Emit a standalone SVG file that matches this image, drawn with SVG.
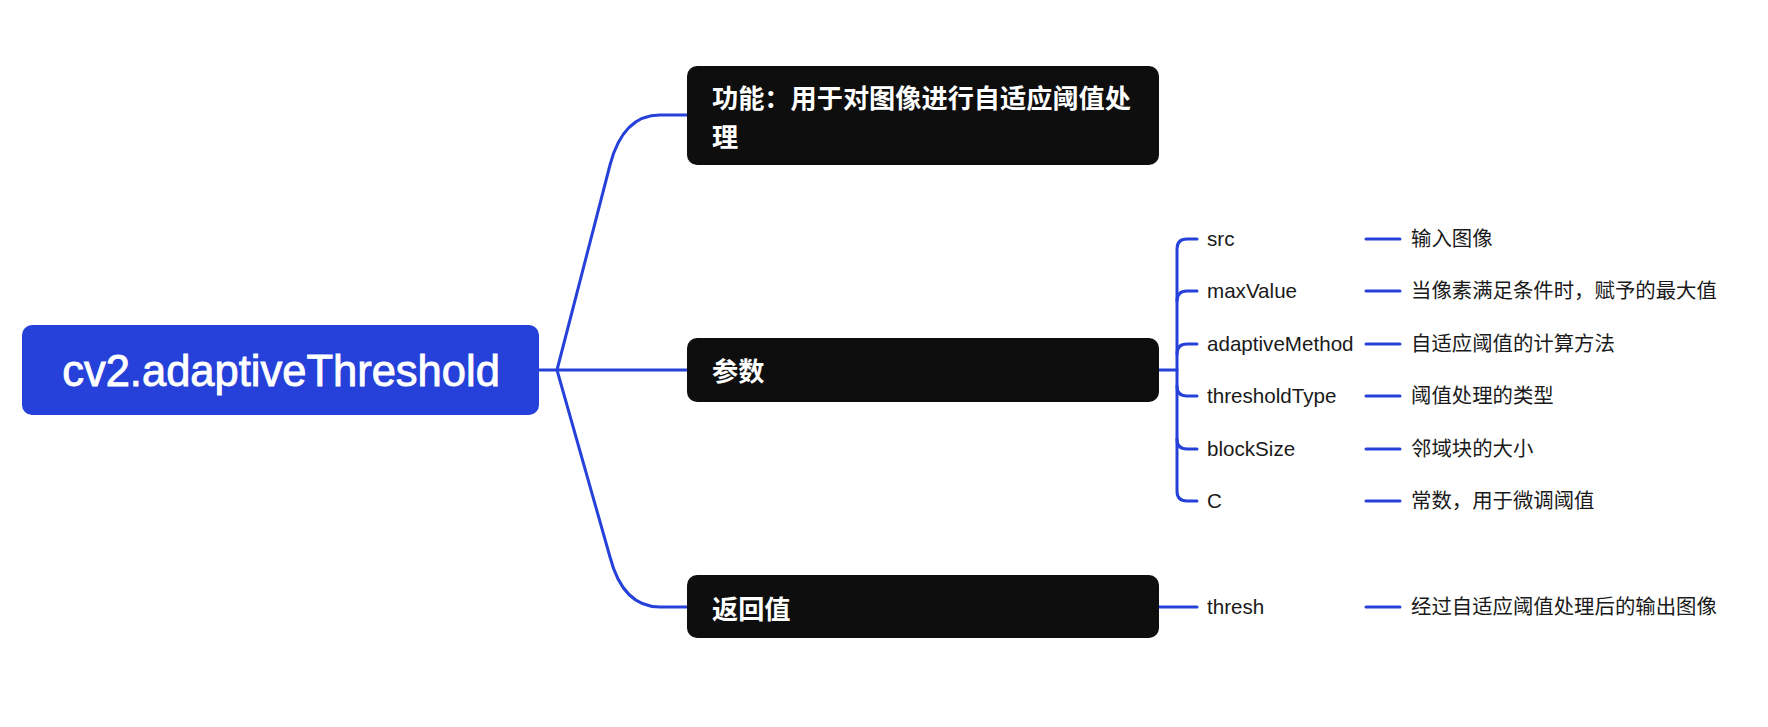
<svg xmlns="http://www.w3.org/2000/svg" width="1768" height="727" viewBox="0 0 1768 727">
<style>
.ln{fill:none;stroke:#2541d9;stroke-width:3;stroke-linecap:round;stroke-linejoin:round}
.root{fill:#2541d9}
.nd{fill:#0e0e0e}
.rt{font-family:"Liberation Sans","Noto Sans CJK SC",sans-serif;font-size:43.5px;fill:#ffffff;stroke:#ffffff;stroke-width:0.9}
.nt{font-family:"Noto Sans CJK SC","Liberation Sans",sans-serif;font-size:26.2px;font-weight:bold;fill:#ffffff}
.ct{font-family:"Liberation Sans","Noto Sans CJK SC",sans-serif;font-size:20.6px;fill:#1a1a1a}
.dt{font-family:"Noto Sans CJK SC","Liberation Sans",sans-serif;font-size:20.4px;fill:#1a1a1a}
</style>
<rect width="1768" height="727" fill="#ffffff"/>
<g id="connectors">
<path class="ln" d="M539 370 L687 370"/>
<path class="ln" d="M557 370 L610 165 Q623 115 660 115 L687 115"/>
<path class="ln" d="M557 370 L610 557 Q623 607 660 607 L687 607"/>
<path class="ln" d="M1159 370 L1177 370"/>
<path class="ln" d="M1197 239 L1187 239 Q1177 239 1177 249 L1177 491 Q1177 501 1187 501 L1197 501"/>
<path class="ln" d="M1177 301 Q1177 291 1187 291 L1197 291"/>
<path class="ln" d="M1177 354 Q1177 344 1187 344 L1197 344"/>
<path class="ln" d="M1177 386 Q1177 396 1187 396 L1197 396"/>
<path class="ln" d="M1177 439 Q1177 449 1187 449 L1197 449"/>
<path class="ln" d="M1159 607 L1197 607"/>
<path class="ln" d="M1366 239 L1400 239"/>
<path class="ln" d="M1366 291 L1400 291"/>
<path class="ln" d="M1366 344 L1400 344"/>
<path class="ln" d="M1366 396 L1400 396"/>
<path class="ln" d="M1366 449 L1400 449"/>
<path class="ln" d="M1366 501 L1400 501"/>
<path class="ln" d="M1366 607 L1400 607"/>
</g>
<g id="root">
<rect class="root" x="22" y="325" width="517" height="90" rx="10"/>
<text class="rt" x="281" y="386" text-anchor="middle">cv2.adaptiveThreshold</text>
</g>
<g id="node-func">
<rect class="nd" x="687" y="66" width="472" height="99" rx="10"/>
<text class="nt" x="712" y="108">功能：用于对图像进行自适应阈值处<tspan x="712" dy="38.5">理</tspan></text>
</g>
<g id="node-params">
<rect class="nd" x="687" y="338" width="472" height="64" rx="10"/>
<text class="nt" x="712" y="381">参数</text>
</g>
<g id="node-return">
<rect class="nd" x="687" y="575" width="472" height="63" rx="10"/>
<text class="nt" x="712" y="619">返回值</text>
</g>
<g id="param-src"><text class="ct" x="1207" y="246">src</text></g>
<g id="param-maxValue"><text class="ct" x="1207" y="298">maxValue</text></g>
<g id="param-adaptiveMethod"><text class="ct" x="1207" y="351">adaptiveMethod</text></g>
<g id="param-thresholdType"><text class="ct" x="1207" y="403">thresholdType</text></g>
<g id="param-blockSize"><text class="ct" x="1207" y="456">blockSize</text></g>
<g id="param-C"><text class="ct" x="1207" y="508">C</text></g>
<g id="ret-thresh"><text class="ct" x="1207" y="614">thresh</text></g>
<g id="desc-src"><text class="dt" x="1411" y="246">输入图像</text></g>
<g id="desc-maxValue"><text class="dt" x="1411" y="298">当像素满足条件时，赋予的最大值</text></g>
<g id="desc-adaptiveMethod"><text class="dt" x="1411" y="351">自适应阈值的计算方法</text></g>
<g id="desc-thresholdType"><text class="dt" x="1411" y="403">阈值处理的类型</text></g>
<g id="desc-blockSize"><text class="dt" x="1411" y="456">邻域块的大小</text></g>
<g id="desc-C"><text class="dt" x="1411" y="508">常数，用于微调阈值</text></g>
<g id="desc-thresh"><text class="dt" x="1411" y="614">经过自适应阈值处理后的输出图像</text></g>
</svg>
